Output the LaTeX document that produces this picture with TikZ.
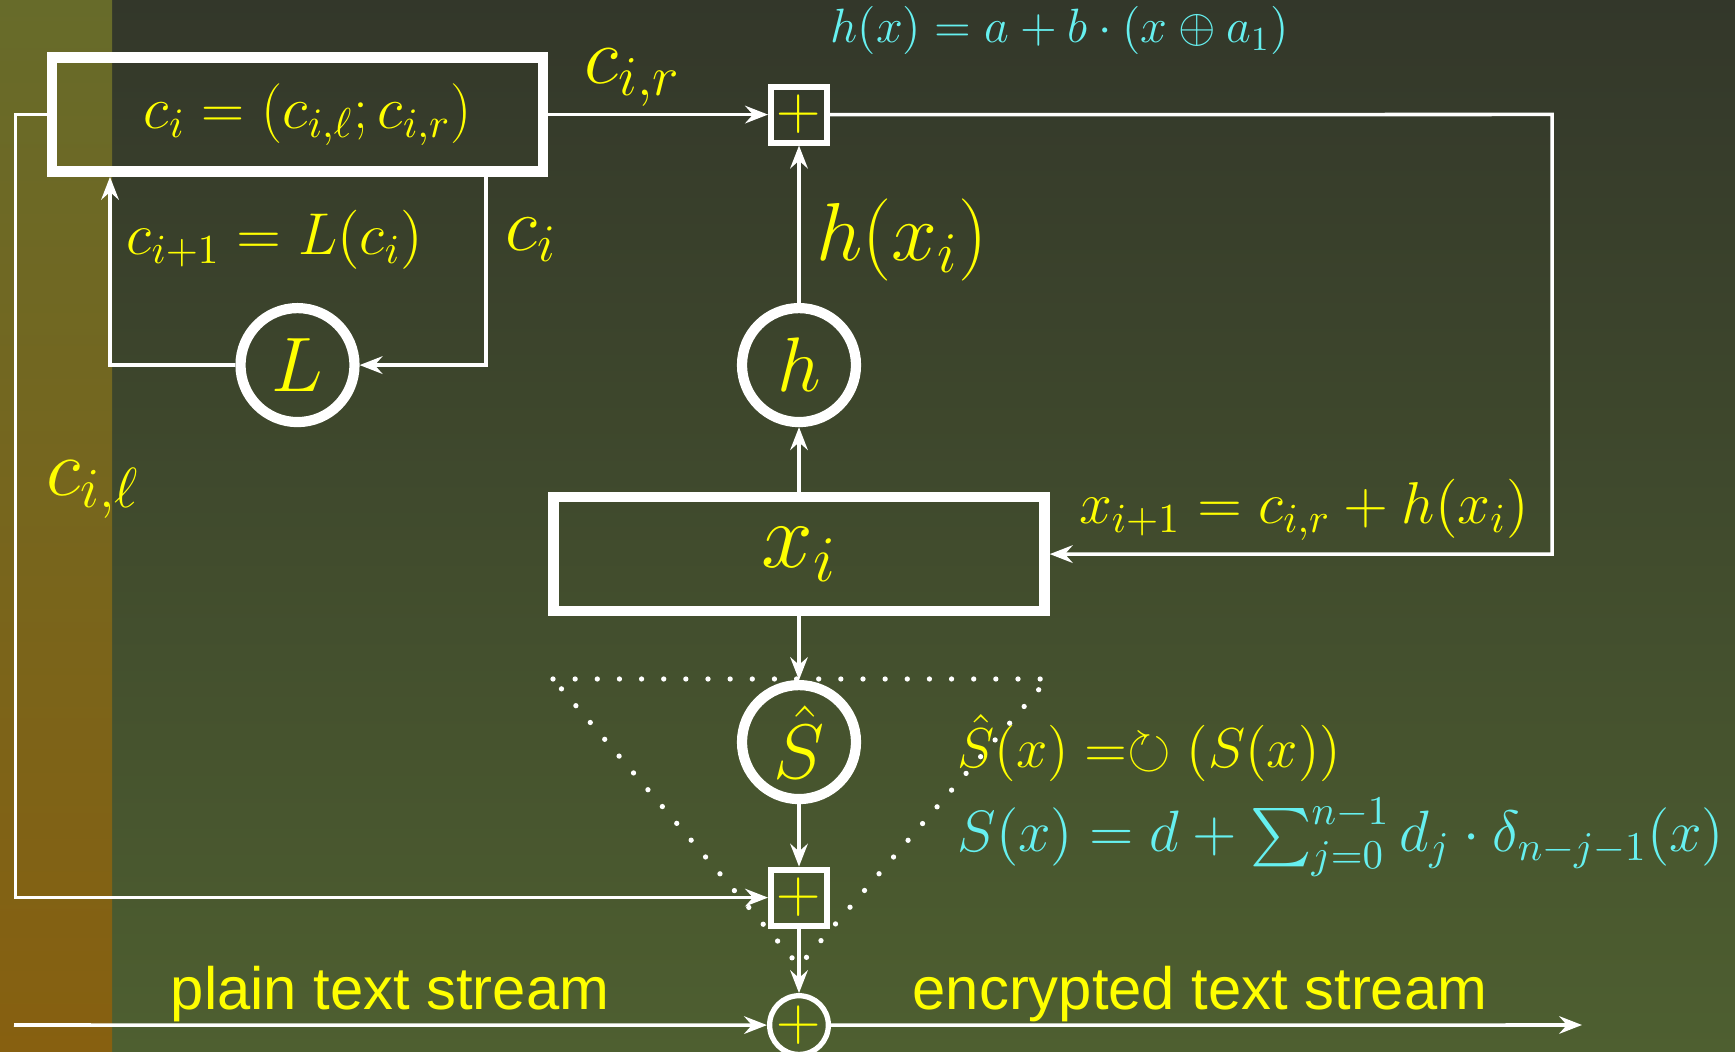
\RequirePackage{fix-cm}
\documentclass[tikz,border=0pt]{standalone}
\usepackage{fontspec}
\usepackage{amssymb}
\newfontfamily\streamfont{Liberation Sans}
\usetikzlibrary{arrows.meta,positioning}

\newcommand\setsize[1]{\fontsize{#1}{#1}\selectfont}

\definecolor{hiyellow}{RGB}{255,255,0}
\definecolor{hicyan}{RGB}{102,240,240}
\definecolor{bgtop}{RGB}{51,55,42}
\definecolor{bgbot}{RGB}{78,95,48}
\definecolor{striptop}{RGB}{103,107,42}
\definecolor{stripbot}{RGB}{135,96,16}

\tikzset{
  flow/.style={draw=white, line width=1pt, -{Stealth[length=6.5pt,width=5pt,inset=2.2pt]}},
  bigbox/.style={draw=white, line width=3pt, minimum width=4.91cm, minimum height=1.14cm, inner sep=0pt, text=hiyellow},
  ring/.style={circle, draw=white, line width=2.9pt, minimum size=1.14cm, inner sep=0pt, text=hiyellow, font=\setsize{22}},
  addbox/.style={draw=white, line width=1.7pt, minimum size=0.56cm, inner sep=0pt, text=hiyellow, font=\setsize{17.5}},
  addring/.style={circle, draw=white, line width=1.5pt, minimum size=0.57cm, inner sep=0pt, text=hiyellow, font=\setsize{17.5}},
  tag/.style={text=hiyellow, inner sep=0pt},
  formula/.style={text=hicyan, inner sep=0pt},
  dotline/.style={draw=white, line width=1.5pt, line cap=round, dash pattern=on 0pt off 6.3pt},
}

\begin{document}
\begin{tikzpicture}[x=1cm, y=1cm]
  \useasboundingbox (0,0) rectangle (17.35,-10.52);
  % background and side strip
  \shade[top color=bgtop, bottom color=bgbot] (0,0) rectangle (17.35,-10.52);
  \shade[top color=striptop, bottom color=stripbot] (0,0) rectangle (1.12,-10.52);

  % register, mixing and adders
  \node[bigbox, font=\setsize{17}] (ci) at (2.975,-1.146) {\hspace*{0.21cm}$c_i = (c_{i,\ell}; c_{i,r})$};
  \node[addbox, node distance=5.015cm, right of=ci] (topadd) {$+$};
  \node[ring, node distance=2.505cm, below of=ci] (L) {$L$};
  \node[ring, node distance=2.505cm, below of=topadd] (h) {$h$};
  \node[bigbox, font=\setsize{26.5}, node distance=1.89cm, below of=h] (xi) {$x_i$};
  \node[ring, node distance=1.88cm, below of=xi] (S) {$\hat{S}$};
  \node[addbox, node distance=1.555cm, below of=S] (botadd) {$+$};
  \node[addring, node distance=1.275cm, below of=botadd] (xor) {$+$};

  \coordinate (lcorner) at (0.157,-1.146);
  \coordinate (rcorner) at (15.52,-1.145);
  \coordinate (instream) at (0.14,-10.25);
  \coordinate (outstream) at (15.82,-10.25);

  % connectors
  \draw[flow] (ci.east) -- (topadd.west);
  \draw[flow] (topadd.east) -- (rcorner) |- (xi.east);
  \draw[flow] ([xshift=1.885cm]ci.south) |- (L.east);
  \draw[flow] (L.west) -| ([xshift=-1.875cm]ci.south);
  \draw[flow] (ci.west) -- (lcorner) |- (botadd.west);
  \draw[flow] (h.north) -- (topadd.south);
  \draw[flow] (xi.north) -- (h.south);
  \draw[flow] (xi.south) -- (S.north);
  \draw[flow] (S.south) -- (botadd.north);
  \draw[flow] (botadd.south) -- (xor.north);
  \draw[flow] (instream) -- (xor.west);
  \draw[flow] (xor.east) -- (outstream);

  % labels
  \node[tag, font=\setsize{22.9}] (cr) at (6.33,-0.78) {$c_{i,r}$};
  \node[tag, font=\setsize{21.5}] (cout) at (5.31,-2.40) {$c_i$};
  \node[tag, font=\setsize{16.8}] (cnext) at (2.75,-2.40) {$c_{i+1} = L(c_i)$};
  \node[tag, font=\setsize{23}] (cl) at (0.93,-4.90) {$c_{i,\ell}$};
  \node[tag, font=\setsize{23.4}] (hx) at (9.02,-2.40) {$h(x_i)$};
  \node[tag, font=\setsize{16.8}] (xnext) at (13.04,-5.10) {$x_{i+1} = c_{i,r} + h(x_i)$};
  \node[formula, font=\setsize{13.7}, anchor=base west] (hdef) at (8.30,-0.43) {$h(x) = a + b\cdot(x \oplus a_1)$};
  \node[tag, font=\setsize{16}, anchor=base west] (Sdef) at (9.57,-7.68) {$\hat{S}(x) =\circlearrowright (S(x))$};
  \node[formula, font=\setsize{16.6}, anchor=base west] (sumdef) at (9.57,-8.52) {$S(x) = d + \sum_{j=0}^{n-1} d_j \cdot \delta_{n-j-1}(x)$};
  \node[tag, font=\streamfont\setsize{17}, anchor=base] (plain) at (3.90,-10.10) {plain text stream};
  \node[tag, font=\streamfont\setsize{17}, anchor=base] (crypt) at (12.00,-10.10) {encrypted text stream};

  % dotted triangle round the output stage
  \draw[dotline] (5.53,-6.79) -- (10.48,-6.79) -- (7.99,-9.66) -- cycle;
\end{tikzpicture}
\end{document}
